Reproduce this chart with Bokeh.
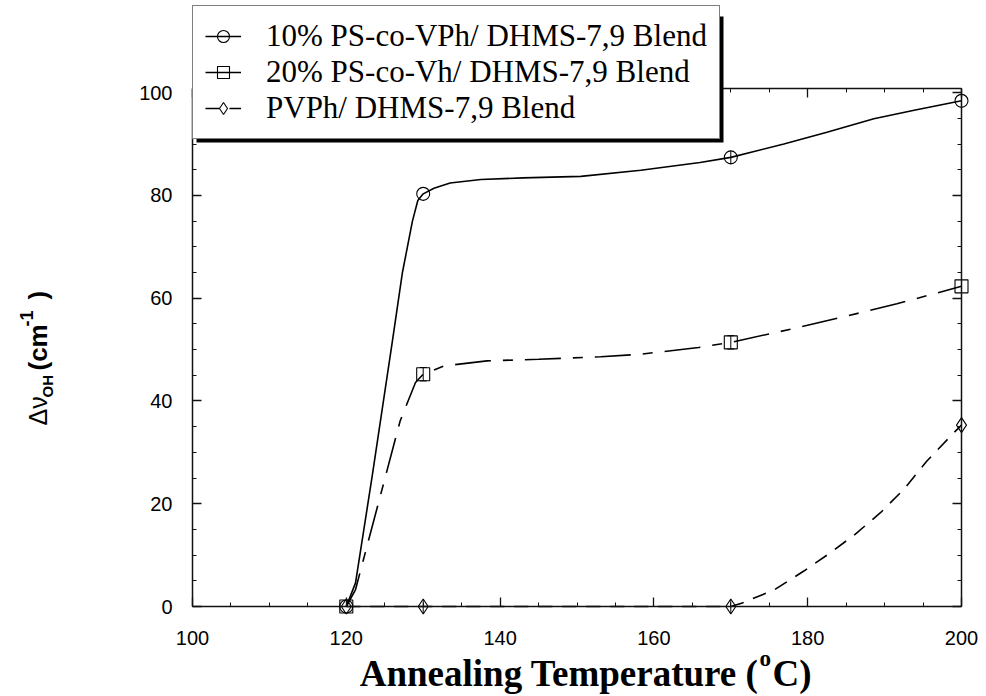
import math
from bokeh.plotting import figure
from bokeh.models import (Range1d, LinearAxis, SingleIntervalTicker, Legend, LegendItem,
                          Label, BoxAnnotation, Whisker, ColumnDataSource, TeeHead)
from bokeh.embed import file_html
from bokeh.resources import INLINE

# ---------------- data ----------------
temps = [120, 130, 170, 200]
ps10_vph = [0, 80.3, 87.4, 98.4]
ps20_vph = [0, 45.2, 51.4, 62.3]
pvph = [0, 0, 0, 35.3]
err_ps10 = [0, 0, 1.3, 0]
err_ps20 = [0, 1.3, 1.3, 0]
err_pvph = [0, 1.3, 1.3, 0]

# traced fitted curves
curve10_x = [120, 121.2, 123.4, 126.0, 127.3, 128.6, 129.3, 130, 131.4, 133.5, 137.5, 143, 150.5, 158.3, 166, 170, 176.9, 182.5, 188.6, 194, 200]
curve10_y = [0, 4.6, 25.7, 51.7, 65, 75, 79, 80.3, 81.4, 82.4, 83.1, 83.4, 83.7, 84.9, 86.4, 87.4, 90, 92.3, 94.9, 96.6, 98.4]
curve20_x = [120, 121.2, 127.0, 129.0, 130, 132.7, 138.3, 145, 153.1, 158.3, 165.8, 170, 178.8, 185, 191.6, 200]
curve20_y = [0, 3.3, 36.1, 43.6, 45.2, 46.8, 47.8, 48.1, 48.6, 49.1, 50.4, 51.4, 54.3, 56.5, 58.9, 62.3]
curvepv_x = [120, 130, 170, 171.5, 175.6, 179.5, 183, 186.2, 189.5, 192.5, 195.5, 198.8, 200]
curvepv_y = [0, 0, 0, 0.7, 3.2, 6.9, 10.5, 14.1, 18.3, 22.8, 28.3, 33.5, 35.3]

series_names = ["10% PS-co-VPh/ DHMS-7,9 Blend",
                "20% PS-co-Vh/ DHMS-7,9 Blend",
                "PVPh/ DHMS-7,9 Blend"]
x_label_main = "Annealing Temperature ("
x_label_sup = "o"
x_label_end = "C)"
y_label_parts = ["\u0394\u03bd", "OH", "(cm", "-1", ")"]

X0, X1 = 100, 200
Y0, Y1 = 0, 100.8

W, H = 986, 696
PXL, PXR, PYT, PYB = 192, 961, 88, 606   # plot-box edges in pixels
sx = (X1 - X0) / (PXR - PXL)
sy = (Y1 - Y0) / (PYB - PYT)
def dx(px):
    return X0 + (px - PXL) * sx
def dy(py):
    return Y0 + (PYB - py) * sy

p = figure(width=W, height=H, output_backend="svg", toolbar_location=None,
           x_range=Range1d(dx(0), dx(W)), y_range=Range1d(dy(H), dy(0)),
           min_border=0, min_border_left=0, min_border_right=0,
           min_border_top=0, min_border_bottom=0,
           x_axis_location=None, y_axis_location=None)
p.outline_line_color = None
p.xgrid.visible = False
p.ygrid.visible = False
p.background_fill_color = "white"
p.border_fill_color = "white"

AX = "#111111"
def style_axis(ax, bounds, loc, labels=True):
    ax.fixed_location = loc
    ax.bounds = bounds
    ax.ticker = SingleIntervalTicker(interval=20, num_minor_ticks=4)
    ax.axis_line_color = AX
    ax.axis_line_width = 1.5
    ax.major_tick_in = 9
    ax.major_tick_out = 0
    ax.minor_tick_in = 4
    ax.minor_tick_out = 0
    ax.major_tick_line_color = AX
    ax.major_tick_line_width = 1.3
    ax.minor_tick_line_color = AX
    ax.minor_tick_line_width = 1
    if labels:
        ax.major_label_text_font = "Liberation Sans"
        ax.major_label_text_font_size = "20px"
        ax.major_label_text_color = "black"
    else:
        ax.major_label_text_font_size = "0px"
        ax.major_label_text_alpha = 0
        ax.major_label_standoff = 0

xb = LinearAxis(); style_axis(xb, (X0, X1), Y0); xb.major_label_standoff = 24
yl = LinearAxis(); style_axis(yl, (Y0, Y1), X0); yl.major_label_standoff = 20
xt = LinearAxis(); style_axis(xt, (X0, X1), Y1, labels=False)
yr = LinearAxis(); style_axis(yr, (Y0, Y1), X1, labels=False)
p.add_layout(xb, "below")
p.add_layout(yl, "left")
p.add_layout(xt, "above")
p.add_layout(yr, "right")

LW = 1.6
l1 = p.line(curve10_x, curve10_y, line_color="black", line_width=LW)
l2 = p.line(curve20_x, curve20_y, line_color="black", line_width=LW, line_dash="36 12 10 12")
l3 = p.line(curvepv_x, curvepv_y, line_color="black", line_width=LW, line_dash="14 10")

m1 = p.scatter(temps, ps10_vph, marker="circle", size=13, fill_alpha=0, line_color="black", line_width=1.1)
m2 = p.scatter(temps, ps20_vph, marker="square", size=13, fill_alpha=0, line_color="black", line_width=1.1)
m3 = p.scatter(temps, pvph, marker="diamond", size=15, fill_alpha=0, line_color="black", line_width=1.1)

def add_err(vals, errs, heads):
    xs = [t for t, e in zip(temps, errs) if e > 0]
    up = [v + e for v, e in zip(vals, errs) if e > 0]
    lo = [v - e for v, e in zip(vals, errs) if e > 0]
    src = ColumnDataSource(dict(base=xs, upper=up, lower=lo))
    if heads:
        kw = dict(upper_head=TeeHead(size=7, line_width=1), lower_head=TeeHead(size=7, line_width=1))
    else:
        kw = dict(upper_head=None, lower_head=None)
    w = Whisker(source=src, base="base", upper="upper", lower="lower", dimension="height",
                line_width=1, line_color="black", **kw)
    p.add_layout(w)

add_err(ps10_vph, err_ps10, False)
add_err(ps20_vph, err_ps20, True)
add_err(pvph, err_pvph, False)

# legend shadow
shadow = BoxAnnotation(left=dx(196), right=dx(723), top=dy(16), bottom=dy(142),
                       fill_color="black", fill_alpha=1, line_color=None)
p.add_layout(shadow)

legend = Legend(items=[LegendItem(label=series_names[0], renderers=[l1, m1]),
                       LegendItem(label=series_names[1], renderers=[l2, m2]),
                       LegendItem(label=series_names[2], renderers=[l3, m3])],
                location=(PXL, H - 139))
legend.label_text_font = "Liberation Serif"
legend.label_text_font_size = "31px"
legend.label_text_color = "black"
legend.glyph_width = 36
legend.glyph_height = 30
legend.label_height = 34
legend.label_standoff = 25
legend.padding = 12
legend.spacing = 0
legend.margin = 0
legend.border_line_color = "black"
legend.border_line_width = 1.5
legend.background_fill_color = "white"
legend.background_fill_alpha = 1
p.add_layout(legend)

SERIF = "Liberation Serif"
SANS = "Liberation Sans"

# x axis title
xparts = [(x_label_main, 758, 673, "right", "37px"),
          (x_label_sup, 759, 658, "left", "23px"),
          (x_label_end, 772, 673, "left", "37px")]
for txt, px, py, al, fs in xparts:
    p.add_layout(Label(x=dx(px), y=dy(py), text=txt, text_align=al,
                       text_baseline="middle", text_font=SERIF, text_font_style="bold",
                       text_font_size=fs, text_color="black"))

# y axis title (rotated pieces)
ypos = [(37, 425, "normal", "25px"), (46.5, 397, "bold", "15px"), (37, 370, "bold", "26px"),
        (25.5, 326, "bold", "18px"), (37, 299, "bold", "26px")]
for txt, (px, py, st, fs) in zip(y_label_parts, ypos):
    p.add_layout(Label(x=dx(px), y=dy(py), text=txt, angle=math.pi / 2, text_align="left",
                       text_baseline="middle", text_font=SANS, text_font_style=st,
                       text_font_size=fs, text_color="black"))

open("out.html", "w").write(file_html(p, INLINE))
